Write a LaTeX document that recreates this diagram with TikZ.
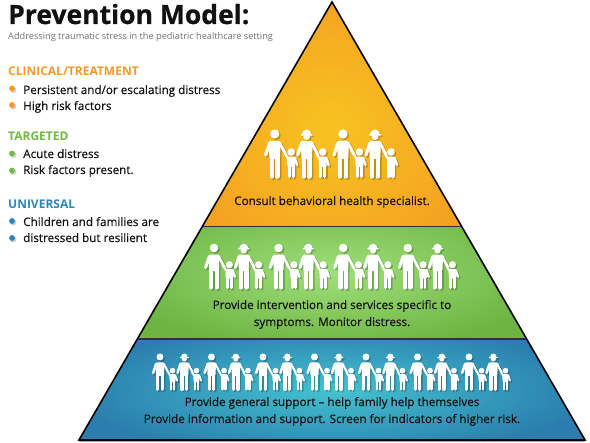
\documentclass[tikz,border=0pt]{standalone}
\usepackage{fontspec}
\setmainfont{Open Sans}
\newfontfamily\txtfont[FakeBold=0.25]{Open Sans}
\newfontfamily\titlefont[FakeBold=0.6]{Open Sans Bold}
\usetikzlibrary{calc}
\definecolor{orA}{HTML}{F7C321}\definecolor{orB}{HTML}{F59B22}
\definecolor{grA}{HTML}{A0E07C}\definecolor{grB}{HTML}{6DB442}
\definecolor{blA}{HTML}{45C3CE}\definecolor{blB}{HTML}{2A7DAE}
\definecolor{headO}{HTML}{F7992B}\definecolor{headG}{HTML}{74B944}\definecolor{headB}{HTML}{2E86B8}
\definecolor{ink}{HTML}{111111}
\tikzset{
  lbl/.style={inner sep=0pt,text=ink,font=\txtfont\fontsize{11.7}{14}\selectfont},
  itemlbl/.style={lbl,anchor=base west},
  midlbl/.style={lbl,anchor=base},
  headlbl/.style={inner sep=0pt,anchor=base west,font=\bfseries\fontsize{12}{14}\selectfont},
  edge/.style={line width=1.6pt,draw=black,line join=miter},
  divider/.style={line width=1.5pt,draw=black!80}
}
\newcommand\adultshape[3]{% x, hat?, linewidth scale
  \begin{scope}[shift={(#1,0)}]
    \ifnum#2=1
      \fill (0,2.6) circle[radius=3.4];
      \fill (-4.6,1.4) .. controls (-5,-6.6) and (5,-6.6) .. (4.6,1.4) -- cycle;
      \fill[rounded corners=0.5pt] (-6,0) rectangle (6,1.6);
    \else
      \fill (0,0) circle[radius=4.6];
    \fi
    \fill[rounded corners=1.5pt] (-6,7) -- (6,7) -- (5.2,25) -- (-5.2,25) -- cycle;
    \draw[line width=#3*4.4pt,line cap=round] (-2.9,24) -- (-2.9,42.5) (2.9,24) -- (2.9,42.5);
    \draw[line width=#3*3.3pt,line cap=round,line join=round] (-5,9) -- (-9,21);
    \draw[line width=#3*2.8pt,line cap=round] (5,9) -- (11,20.5);
  \end{scope}}
\newcommand\childshape[2]{% x, linewidth scale
  \begin{scope}[shift={(#1,18)}]
    \fill (0,0) circle[radius=3.8];
    \fill[rounded corners=1pt] (-4.2,4.6) -- (4.2,4.6) -- (3.8,15) -- (-3.8,15) -- cycle;
    \draw[line width=#2*3.2pt,line cap=round] (-2,14) -- (-2,24.5) (2,14) -- (2,24.5);
    \draw[line width=#2*2.5pt,line cap=round] (-3.5,6) -- (-5.5,2.5) (3.5,6) -- (6,13);
  \end{scope}}
\newcommand\famshape[1]{%
  \adultshape{0}{0}{#1}\childshape{16.5}{#1}\adultshape{32}{1}{#1}\childshape{48}{#1}}
\newcommand\family[3]{%
  \begin{scope}[shift={(#1+1.5,#2+1.5)},scale=#3,transparency group,opacity=.22]
    \begin{scope}[black,fill=black,draw=black]\famshape{#3}\end{scope}
  \end{scope}
  \begin{scope}[shift={(#1,#2)},scale=#3,fill=white,draw=white]\famshape{#3}\end{scope}}
\newcommand\bulletdot[3]{%
  \fill[black,opacity=.18] (#1+1.2,#2+1.4) circle[radius=3.2];
  \fill[#3] (#1,#2) circle[radius=2.9];}
\begin{document}
\begin{tikzpicture}[x=1pt,y=-1pt]
\useasboundingbox (0,0) rectangle (590,443);
\fill[white] (0,0) rectangle (590,443);
\coordinate (apex) at (332,2);
\coordinate (bl) at (79,440);
\coordinate (br) at (585,440);
\fill[black!35] (79,440) rectangle (585,442);
\begin{scope}
  \clip (apex) -- (202.6,226) -- (461.4,226) -- cycle;
  \shade[shading=radial,inner color=orA,outer color=orB] (150,-40) rectangle (510,300);
\end{scope}
\begin{scope}
  \clip (202.6,226) -- (137.5,339) -- (526.5,339) -- (461.4,226) -- cycle;
  \shade[shading=radial,inner color=grA,outer color=grB] (110,195) rectangle (554,350);
\end{scope}
\begin{scope}
  \clip (137.5,339) -- (79,440) -- (585,440) -- (526.5,339) -- cycle;
  \shade[shading=radial,inner color=blA,outer color=blB] (70,322) rectangle (594,458);
\end{scope}
\draw[divider] (202.6,226.5) -- (461.4,226.5);
\draw[divider] (137.5,339) -- (526.5,339);
\draw[edge] (bl) -- (apex) -- (br) -- cycle;
\family{274.7}{134}{1}\family{343}{134}{1}
\foreach \i in {0,1,2,3}{\family{214+64.6*\i}{248}{0.93}}
\foreach \i in {0,...,6}{\family{160+51.5*\i}{357}{0.76}}
\node[inner sep=0pt,anchor=base west,text=ink,font=\titlefont\fontsize{26.5}{30}\selectfont] (title) at (8,24) {Prevention Model:};
\node[inner sep=0pt,anchor=base west,text=black!55,font=\fontsize{9.2}{11}\selectfont] (sub) at (8,39.5) {Addressing traumatic stress in the pediatric healthcare setting};
\node[headlbl,text=headO] (h1) at (8,76) {CLINICAL/TREATMENT};
\bulletdot{12}{88.5}{headO}\bulletdot{12}{105}{headO}
\node[itemlbl] (a1) at (23,94) {Persistent and/or escalating distress};
\node[itemlbl] (a2) at (23,110) {High risk factors};
\node[headlbl,text=headG] (h2) at (8,140.5) {TARGETED};
\bulletdot{12}{153.5}{headG}\bulletdot{12}{170.5}{headG}
\node[itemlbl] (b1) at (23,158) {Acute distress};
\node[itemlbl] (b2) at (23,174) {Risk factors present.};
\node[headlbl,text=headB] (h3) at (8,208.5) {UNIVERSAL};
\bulletdot{12}{221}{headB}\bulletdot{12}{238}{headB}
\node[itemlbl] (c1) at (23,226) {Children and families are};
\node[itemlbl] (c2) at (23,242) {distressed but resilient};
\node[midlbl] (t1) at (332,205) {Consult behavioral health specialist.};
\node[midlbl] (t2) at (332,309) {Provide intervention and services specific to};
\node[midlbl] (t3) at (332,326) {symptoms. Monitor distress.};
\node[midlbl] (t4) at (332,406) {Provide general support – help family help themselves};
\node[midlbl] (t5) at (332,423) {Provide information and support. Screen for indicators of higher risk.};
\end{tikzpicture}
\end{document}
